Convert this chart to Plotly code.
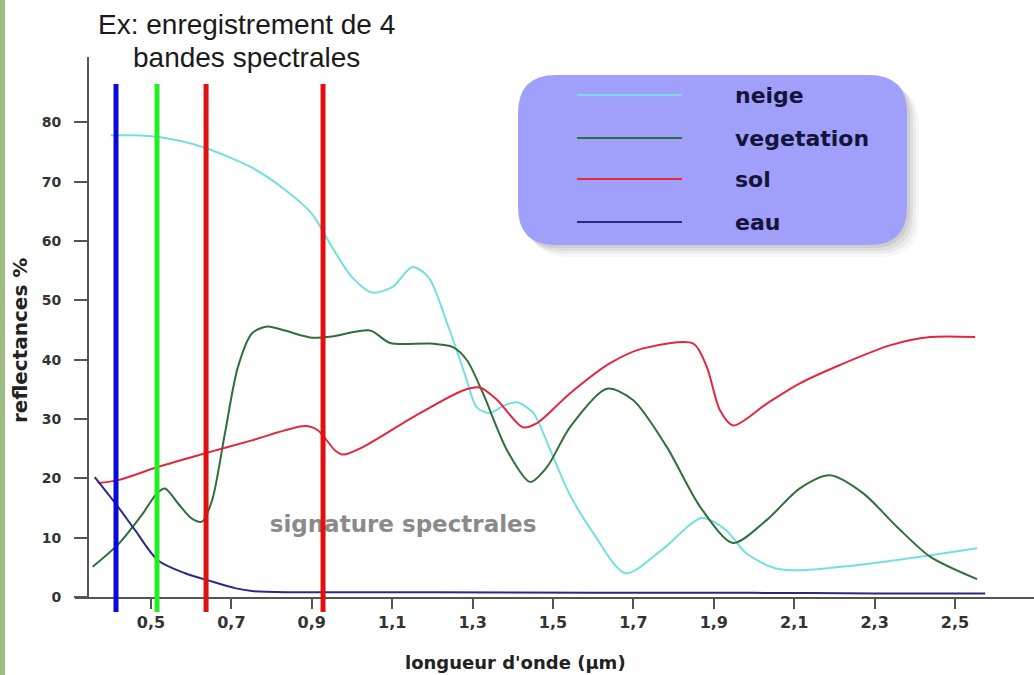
import plotly.graph_objects as go

# ---------------- data ----------------
wl_neige = [0.40, 0.45, 0.52, 0.63, 0.75, 0.83, 0.90, 0.95, 1.00, 1.05, 1.10, 1.15, 1.19, 1.24,
            1.28, 1.31, 1.34, 1.38, 1.41, 1.45, 1.49, 1.54, 1.60, 1.68, 1.77, 1.87, 1.93, 1.98,
            2.05, 2.11, 2.32, 2.555]
neige = [77.8, 77.8, 77.5, 75.8, 72.4, 68.8, 64.6, 59.0, 53.9, 51.3, 52.2, 55.6, 53.9, 45.5,
         37.7, 32.0, 31.0, 32.3, 32.8, 31.1, 25.3, 17.5, 10.8, 4.0, 7.9, 13.3, 11.3, 7.4,
         4.9, 4.5, 5.9, 8.2]

wl_veg = [0.355, 0.42, 0.48, 0.515, 0.535, 0.567, 0.60, 0.627, 0.652, 0.684, 0.716, 0.751,
          0.789, 0.833, 0.90, 0.95, 1.045, 1.095, 1.194, 1.251, 1.286, 1.326, 1.386, 1.443,
          1.485, 1.542, 1.634, 1.699, 1.783, 1.866, 1.948, 2.032, 2.114, 2.189, 2.271, 2.356,
          2.438, 2.555]
vegetation = [5.1, 9.0, 14.1, 17.5, 18.3, 15.8, 13.3, 12.7, 16.3, 27.6, 38.7, 44.4,
              45.6, 44.9, 43.7, 43.9, 44.9, 42.8, 42.7, 42.1, 39.9, 34.3, 24.7, 19.4,
              21.9, 28.6, 35.1, 33.2, 25.3, 15.2, 9.1, 13.0, 18.3, 20.5, 17.5, 11.8,
              6.8, 3.0]

wl_sol = [0.368, 0.418, 0.517, 0.634, 0.751, 0.883, 0.915, 0.958, 0.978, 1.028, 1.152, 1.276,
          1.318, 1.361, 1.425, 1.46, 1.542, 1.642, 1.724, 1.849, 1.883, 1.915, 1.948, 2.032,
          2.114, 2.214, 2.338, 2.438, 2.55]
sol = [19.2, 19.7, 21.9, 24.2, 26.4, 28.8, 28.1, 24.7, 24.0, 25.3, 30.3, 34.8,
       35.3, 33.2, 28.6, 29.3, 34.3, 39.4, 41.9, 42.7, 38.7, 31.5, 28.9, 32.6,
       36.0, 39.1, 42.4, 43.8, 43.8]

wl_eau = [0.36, 0.418, 0.46, 0.517, 0.585, 0.652, 0.709, 0.751, 0.85, 1.2, 1.6, 2.0, 2.3, 2.575]
eau = [20.2, 15.2, 11.3, 6.2, 4.0, 2.6, 1.5, 1.0, 0.8, 0.8, 0.7, 0.7, 0.6, 0.6]

series_names = ["neige", "vegetation", "sol", "eau"]
series_colors = ["#74dfe2", "#2f6f3a", "#e3283c", "#2a2a85"]

band_wl = [0.413, 0.515, 0.637, 0.928]
band_colors = ["#0a0ad8", "#22ee22", "#e01010", "#e01010"]

xtick_vals = [0.5, 0.7, 0.9, 1.1, 1.3, 1.5, 1.7, 1.9, 2.1, 2.3, 2.5]
xtick_text = ["0,5", "0,7", "0,9", "1,1", "1,3", "1,5", "1,7", "1,9", "2,1", "2,3", "2,5"]
ytick_vals = [0, 10, 20, 30, 40, 50, 60, 70, 80]

# ---------------- geometry helpers (pixel -> paper) ----------------
W, H = 1034, 675
L, R, T, B = 75, 0, 57, 78
PW, PH = W - L - R, H - T - B


def px(x):
    return (x - L) / PW


def py(y):
    return (H - B - y) / PH


def rounded_rect(x0, y0, x1, y1, r):
    return (f"M {px(x0 + r)} {py(y0)} L {px(x1 - r)} {py(y0)} "
            f"Q {px(x1)} {py(y0)} {px(x1)} {py(y0 + r)} L {px(x1)} {py(y1 - r)} "
            f"Q {px(x1)} {py(y1)} {px(x1 - r)} {py(y1)} L {px(x0 + r)} {py(y1)} "
            f"Q {px(x0)} {py(y1)} {px(x0)} {py(y1 - r)} L {px(x0)} {py(y0 + r)} "
            f"Q {px(x0)} {py(y0)} {px(x0 + r)} {py(y0)} Z")


BOLD = "DejaVu Sans"

fig = go.Figure()

xs = [wl_neige, wl_veg, wl_sol, wl_eau]
ys = [neige, vegetation, sol, eau]
for name, x, y, c in zip(series_names, xs, ys, series_colors):
    fig.add_trace(go.Scatter(x=x, y=y, name=name, mode="lines",
                             line=dict(color=c, width=2, shape="spline", smoothing=0.8),
                             showlegend=False, hoverinfo="skip"))

fig.add_trace(go.Scatter(x=[1.127], y=[12.0], mode="text", text=["signature spectrales"],
                         textfont=dict(family=BOLD, size=23, color="#8a8a8a", weight="bold"),
                         showlegend=False, hoverinfo="skip"))

shapes = []
# left page strip
shapes.append(dict(type="rect", xref="paper", yref="paper", x0=px(0), x1=px(5),
                   y0=py(H), y1=py(0), fillcolor="#9dbd82", line=dict(width=0),
                   layer="below"))
# legend shadow + box
for off, op in [(12, 0.03), (9, 0.045), (6, 0.06), (3, 0.07)]:
    shapes.append(dict(type="path", xref="paper", yref="paper",
                       path=rounded_rect(518 + off, 75 + off, 907 + off, 245 + off, 38),
                       fillcolor=f"rgba(0,0,0,{op})", line=dict(width=0), layer="below"))
shapes.append(dict(type="path", xref="paper", yref="paper",
                   path=rounded_rect(518, 75, 907, 245, 38),
                   fillcolor="#a0a0fb", line=dict(width=0), layer="below"))
legend_y = [95, 138, 179, 222]
for name, c, ly in zip(series_names, series_colors, legend_y):
    shapes.append(dict(type="line", xref="paper", yref="paper", x0=px(577), x1=px(682),
                       y0=py(ly), y1=py(ly), line=dict(color=c, width=2)))
# spectral bands
for b, c in zip(band_wl, band_colors):
    shapes.append(dict(type="line", xref="x", yref="paper", x0=b, x1=b,
                       y0=py(612), y1=py(84), line=dict(color=c, width=5), layer="above"))

annotations = []
for name, ly in zip(series_names, legend_y):
    annotations.append(dict(xref="paper", yref="paper", x=px(733), y=py(ly), text=name,
                            showarrow=False, xanchor="left", yanchor="middle",
                            font=dict(family=BOLD, size=22, color="#14143a", weight="bold")))
title_lines = ["Ex: enregistrement de 4", "bandes spectrales"]
for txt, ty in zip(title_lines, [25, 57]):
    annotations.append(dict(xref="paper", yref="paper", x=px(246), y=py(ty), text=txt,
                            showarrow=False, xanchor="center", yanchor="middle",
                            font=dict(family="Liberation Sans", size=28, color="#1a1a1a")))
annotations.append(dict(xref="paper", yref="paper", x=px(515), y=py(662),
                        text="longueur d'onde (µm)", showarrow=False,
                        xanchor="center", yanchor="middle",
                        font=dict(family=BOLD, size=18, color="#222222", weight="bold")))
annotations.append(dict(xref="paper", yref="paper", x=px(20), y=py(341),
                        text="reflectances %", showarrow=False, textangle=-90,
                        xanchor="center", yanchor="middle",
                        font=dict(family=BOLD, size=20, color="#222222", weight="bold")))

fig.update_layout(
    width=W, height=H,
    margin=dict(l=L, r=R, t=T, b=B, pad=0),
    paper_bgcolor="white", plot_bgcolor="white",
    showlegend=False,
    shapes=shapes, annotations=annotations,
    xaxis=dict(range=[0.311, 2.6965], showgrid=False, zeroline=False,
               showline=True, linecolor="#555555", linewidth=2,
               ticks="outside", ticklen=10, tickwidth=2, tickcolor="#555555",
               tickvals=xtick_vals, ticktext=xtick_text,
               tickfont=dict(family=BOLD, size=16, color="#333333", weight="bold")),
    yaxis=dict(range=[0, 91], anchor="free", position=px(88), showgrid=False,
               zeroline=False, showline=True, linecolor="#555555", linewidth=2,
               ticks="outside", ticklen=13, tickwidth=2, tickcolor="#555555",
               tickvals=ytick_vals, ticklabelstandoff=10,
               tickfont=dict(family=BOLD, size=14, color="#333333", weight="bold")),
)

fig.write_html("out.html", config={"displayModeBar": False},
               post_script="document.body.style.margin='0px';")
